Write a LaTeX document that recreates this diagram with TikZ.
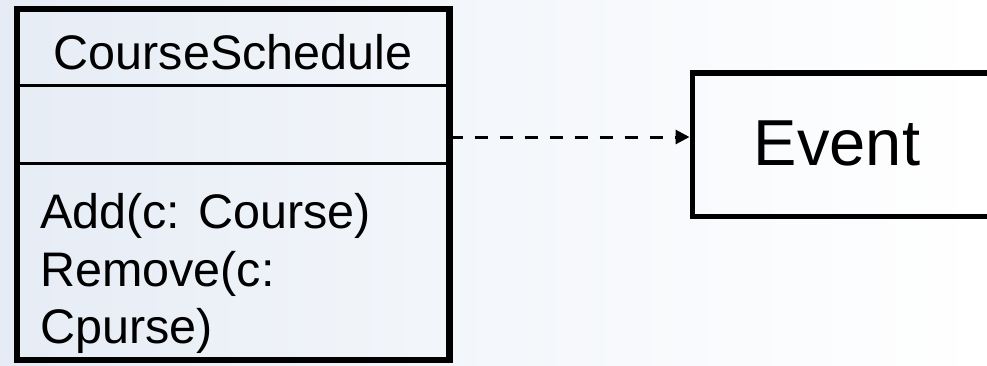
\documentclass[tikz,border=0pt]{standalone}
\usepackage{fontspec}
\setmainfont{Liberation Sans}
\usetikzlibrary{arrows.meta}
\definecolor{bgleft}{RGB}{230,236,245}
\definecolor{bgmid}{RGB}{244,247,251}
\tikzset{
  classbox/.style={draw=black, line width=6.5pt, rectangle, inner sep=0pt},
  evtbox/.style={draw=black, line width=5.5pt, rectangle, inner sep=0pt},
  divider/.style={draw=black, line width=3pt},
  dep/.style={draw=black, line width=3pt, dash pattern=on 13pt off 12pt, -{Triangle[length=14pt,width=14pt]}},
  uml/.style={font=\fontsize{48.5}{58}\selectfont, inner sep=0pt},
  evt/.style={font=\fontsize{65}{78}\selectfont, inner sep=0pt}
}
\begin{document}
\begin{tikzpicture}[x=1pt,y=-1pt]
  \useasboundingbox (0,0) rectangle (987,365);
  \shade[left color=bgleft, right color=white, middle color=bgmid] (0,0) rectangle (987,365);
  \clip (0,0) rectangle (987,365);
  % class box
  \node[classbox, minimum width=432.5pt, minimum height=351pt] (cls) at (233.25,184.5) {};
  \coordinate (d1) at (17,85.5);
  \coordinate (d2) at (17,163);
  \draw[divider] (d1) -- (d1 -| cls.east);
  \draw[divider] (d2) -- (d2 -| cls.east);
  \node[uml, anchor=base] (name) at (233,69) {CourseSchedule};
  \node[uml, anchor=base west] (op1) at (40,228) {Add(c: Course)};
  \node[uml, anchor=base west] (op2) at (40,286) {Remove(c:};
  \node[uml, anchor=base west] (op3) at (40,343) {Cpurse)};
  % event box (extends beyond the right edge)
  \node[evtbox, minimum width=340pt, minimum height=143.5pt, anchor=west] (event) at (689.5,144.75) {};
  \node[evt, anchor=base] (evtext) at (837,165) {Event};
  % dependency
  \coordinate (src) at (449.5,137);
  \draw[dep] (src) -- (src -| event.west);
\end{tikzpicture}
\end{document}
